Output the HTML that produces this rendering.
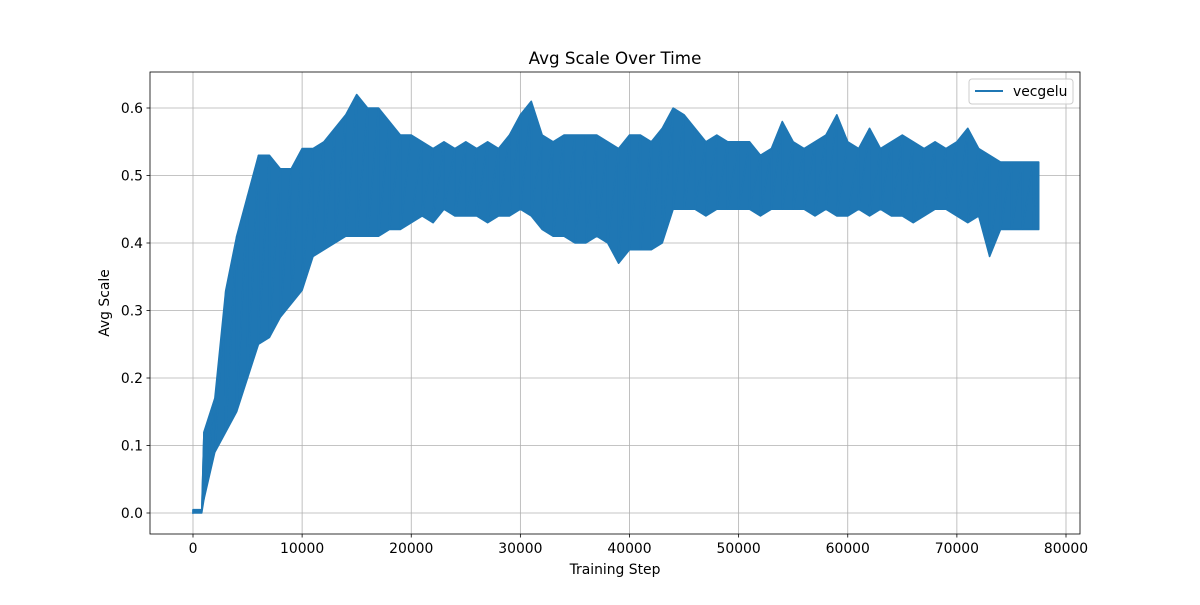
<!DOCTYPE html>
<html><head><meta charset="utf-8"><style>
body{margin:0;background:#fff;}
svg text{font-family:"DejaVu Sans","Liberation Sans",sans-serif;fill:#000;}
</style></head><body>
<svg id="chart" width="1200" height="600" xmlns="http://www.w3.org/2000/svg">
<rect width="1200" height="600" fill="#fff"/>
<g id="grid"></g>
<g id="series"></g>
<rect x="150" y="72" width="930" height="462" fill="none" stroke="#000" stroke-width="0.8"/>
<g id="ticks"></g>
<text x="615" y="64" font-size="16.7" text-anchor="middle">Avg Scale Over Time</text>
<text x="615" y="574" font-size="13.9" text-anchor="middle">Training Step</text>
<text x="0" y="0" font-size="13.9" text-anchor="middle" transform="translate(109,303) rotate(-90)">Avg Scale</text>
<g>
<rect x="969" y="79" width="104" height="25" rx="3" fill="#fff" fill-opacity="0.8" stroke="#ccc"/>
<line x1="975" y1="91" x2="1003" y2="91" stroke="#1f77b4" stroke-width="2"/>
<text x="1013" y="96" font-size="13.9">vecgelu</text>
</g>
</svg>
<script>
const steps=[0,800,1000,2000,3000,4000,5000,6000,7000,8000,9000,10000,11000,12000,13000,14000,15000,16000,17000,18000,19000,20000,21000,22000,23000,24000,25000,26000,27000,28000,29000,30000,31000,32000,33000,34000,35000,36000,37000,38000,39000,40000,41000,42000,43000,44000,45000,46000,47000,48000,49000,50000,51000,52000,53000,54000,55000,56000,57000,58000,59000,60000,61000,62000,63000,64000,65000,66000,67000,68000,69000,70000,71000,72000,73000,74000,75000,76000,77000,77500];
const hiValues=[0.005,0.005,0.12,0.17,0.33,0.41,0.47,0.53,0.53,0.51,0.51,0.54,0.54,0.55,0.57,0.59,0.62,0.60,0.60,0.58,0.56,0.56,0.55,0.54,0.55,0.54,0.55,0.54,0.55,0.54,0.56,0.59,0.61,0.56,0.55,0.56,0.56,0.56,0.56,0.55,0.54,0.56,0.56,0.55,0.57,0.60,0.59,0.57,0.55,0.56,0.55,0.55,0.55,0.53,0.54,0.58,0.55,0.54,0.55,0.56,0.59,0.55,0.54,0.57,0.54,0.55,0.56,0.55,0.54,0.55,0.54,0.55,0.57,0.54,0.53,0.52,0.52,0.52,0.52,0.52];
const loValues=[0,0,0.02,0.09,0.12,0.15,0.20,0.25,0.26,0.29,0.31,0.33,0.38,0.39,0.40,0.41,0.41,0.41,0.41,0.42,0.42,0.43,0.44,0.43,0.45,0.44,0.44,0.44,0.43,0.44,0.44,0.45,0.44,0.42,0.41,0.41,0.40,0.40,0.41,0.40,0.37,0.39,0.39,0.39,0.40,0.45,0.45,0.45,0.44,0.45,0.45,0.45,0.45,0.44,0.45,0.45,0.45,0.45,0.44,0.45,0.44,0.44,0.45,0.44,0.45,0.44,0.44,0.43,0.44,0.45,0.45,0.44,0.43,0.44,0.38,0.42,0.42,0.42,0.42,0.42];
const xTicks=[0,10000,20000,30000,40000,50000,60000,70000,80000];
const yTicks=[0.0,0.1,0.2,0.3,0.4,0.5,0.6];
const NS="http://www.w3.org/2000/svg";
const X=v=>193+v*(873/80000);
const Y=v=>513-v*675;
function mk(tag,attrs,parent){const e=document.createElementNS(NS,tag);for(const k in attrs)e.setAttribute(k,attrs[k]);parent.appendChild(e);return e;}
const grid=document.getElementById('grid'),ticks=document.getElementById('ticks'),series=document.getElementById('series');
xTicks.forEach(t=>{
  const g=mk('line',{x1:X(t),x2:X(t),y1:72,y2:534,stroke:'#b0b0b0','stroke-width':0.8},grid);
  
  
  const tk=mk('line',{x1:X(t),x2:X(t),y1:534,y2:537.5,stroke:'#000','stroke-width':0.8},ticks);
  
  
  const tx=mk('text',{x:X(t),y:553,'font-size':13.9,'text-anchor':'middle'},ticks);
  tx.textContent=String(t);
  
  
});
yTicks.forEach(t=>{
  const g=mk('line',{x1:150,x2:1080,y1:Y(t),y2:Y(t),stroke:'#b0b0b0','stroke-width':0.8},grid);
  
  
  const tk=mk('line',{x1:146.5,x2:150,y1:Y(t),y2:Y(t),stroke:'#000','stroke-width':0.8},ticks);
  
  
  const tx=mk('text',{x:143,y:Y(t)+5,'font-size':13.9,'text-anchor':'end'},ticks);
  tx.textContent=t.toFixed(1);
  
  
});
let pts=[];
for(let i=0;i<steps.length;i++)pts.push(X(steps[i])+','+Y(hiValues[i]));
for(let i=steps.length-1;i>=0;i--)pts.push(X(steps[i])+','+Y(loValues[i]));
const band=mk('polygon',{points:pts.join(' '),fill:'#1f77b4',stroke:'#1f77b4','stroke-width':1.5,'stroke-linejoin':'round'},series);


let zz=[];
for(let i=0;i<steps.length;i++){zz.push(X(steps[i])+','+Y(hiValues[i]));zz.push(X(steps[i])+','+Y(loValues[i]));}
const line=mk('polyline',{points:zz.join(' '),fill:'none',stroke:'#1f77b4','stroke-width':1.5},series);


</script>
</body></html>
